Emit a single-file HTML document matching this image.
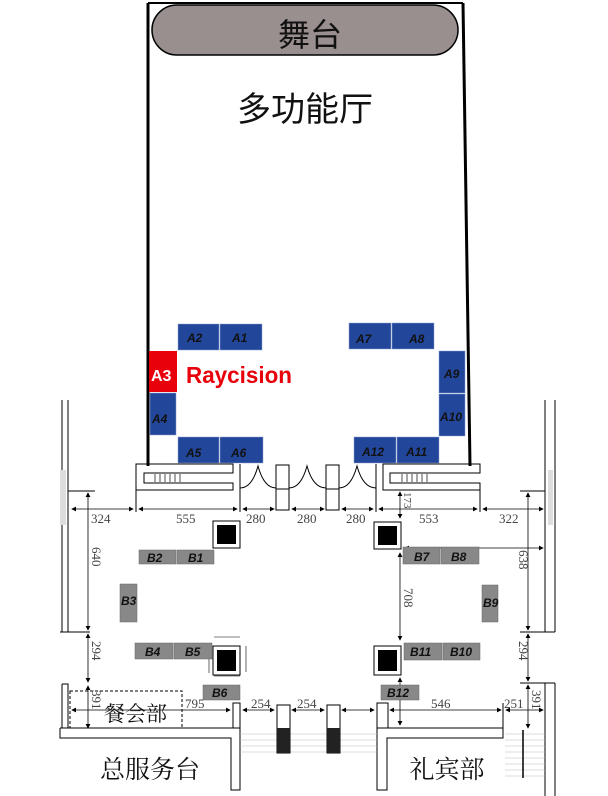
<!DOCTYPE html>
<html><head><meta charset="utf-8"><style>
html,body{margin:0;padding:0;background:#fff;}
svg{display:block;}
.cj{font-family:"Liberation Serif","Noto Serif CJK SC",serif;}
.bt{font-family:"Liberation Sans",sans-serif;font-weight:bold;font-style:italic;font-size:12px;}
.dm{font-family:"Liberation Serif",serif;font-size:13px;fill:#444;}
</style></head><body>
<svg width="608" height="796" viewBox="0 0 608 796" xmlns="http://www.w3.org/2000/svg">
<defs><marker id="ar" markerWidth="6" markerHeight="6" refX="5" refY="3" orient="auto-start-reverse"><path d="M0,0 L6,3 L0,6 Z" fill="#000"/></marker></defs>
<g stroke="#000" fill="none" stroke-width="1">
<line x1="148" y1="3" x2="463" y2="3" stroke-width="2"/>
<line x1="148" y1="3" x2="148" y2="466" stroke-width="3"/>
<line x1="463" y1="3" x2="470" y2="466" stroke-width="3"/>
<rect x="152" y="5" width="306" height="50" rx="25" fill="#9a8f8f" stroke-width="1.5"/>
<path d="M136,464 H233 V473 H144 V483 H233 V490 H136 Z"/>
<line x1="136" y1="490" x2="136" y2="512"/>
<line x1="240" y1="464" x2="240" y2="512"/>
<line x1="376" y1="464" x2="376" y2="512"/>
<path d="M383,464 H480 V473 H390 V483 H480 V490 H383 Z"/>
<line x1="480" y1="490" x2="480" y2="512"/>
<rect x="276" y="465" width="13" height="45"/><line x1="276" y1="489" x2="289" y2="489"/>
<rect x="326" y="465" width="13" height="45"/><line x1="326" y1="489" x2="339" y2="489"/>
<path d="M240,488 Q252,488 258,466 Q264,488 276,488"/>
<path d="M289,488 Q301,488 307,466 Q313,488 326,488"/>
<path d="M339,488 Q351,488 357,466 Q363,488 376,488"/>
<line x1="62" y1="400" x2="62" y2="632"/><line x1="68" y1="400" x2="68" y2="632"/>
<line x1="60" y1="632" x2="90" y2="632"/>
<line x1="68" y1="491" x2="95" y2="491"/>
<line x1="545" y1="400" x2="545" y2="632"/><line x1="555" y1="400" x2="555" y2="632"/>
<line x1="520" y1="632" x2="555" y2="632"/>
<line x1="520" y1="491" x2="545" y2="491"/>
<line x1="545" y1="683" x2="545" y2="796"/><line x1="555" y1="683" x2="555" y2="796"/>
<line x1="520" y1="683" x2="555" y2="683"/>
<path d="M62,684 V728 H60 M62,684 H68 V728"/>
<line x1="60" y1="728" x2="240" y2="728"/>
<path d="M60,728 V738 H231 V790 H240 V728"/>
<rect x="233" y="703" width="7" height="25"/>
<rect x="70" y="691" width="112" height="37" stroke-dasharray="3,2"/>
<path d="M377,703 V790 H387 V738 H503 V728 H377"/>
<rect x="377" y="703" width="11" height="25"/>
<line x1="503" y1="728" x2="503" y2="703"/>
<g stroke="#bbb" stroke-width="0.6">
<line x1="240" y1="734" x2="377" y2="734"/><line x1="240" y1="740" x2="377" y2="740"/><line x1="240" y1="746" x2="377" y2="746"/><line x1="240" y1="752" x2="377" y2="752"/>
<line x1="505" y1="734" x2="545" y2="734"/><line x1="505" y1="740" x2="545" y2="740"/><line x1="505" y1="746" x2="545" y2="746"/><line x1="505" y1="752" x2="545" y2="752"/><line x1="505" y1="758" x2="545" y2="758"/><line x1="505" y1="764" x2="545" y2="764"/><line x1="505" y1="770" x2="545" y2="770"/><line x1="505" y1="776" x2="545" y2="776"/>
</g>
<line x1="523" y1="730" x2="523" y2="778" stroke-width="1.5"/>
<rect x="277" y="705" width="13" height="48"/><rect x="327" y="705" width="13" height="48"/>
<g stroke-width="0.8" marker-start="url(#ar)" marker-end="url(#ar)">
<line x1="72" y1="509" x2="133" y2="509"/><line x1="139" y1="509" x2="237" y2="509"/>
<line x1="243" y1="509" x2="274" y2="509"/><line x1="292" y1="509" x2="324" y2="509"/><line x1="342" y1="509" x2="373" y2="509"/>
<line x1="379" y1="509" x2="477" y2="509"/><line x1="483" y1="509" x2="543" y2="509"/>
<line x1="88" y1="493" x2="88" y2="630"/><line x1="88" y1="634" x2="88" y2="682"/><line x1="88" y1="686" x2="88" y2="728"/>
<line x1="528" y1="493" x2="528" y2="630"/><line x1="528" y1="634" x2="528" y2="681"/><line x1="528" y1="685" x2="528" y2="728"/>
<line x1="72" y1="710" x2="230" y2="710"/><line x1="243" y1="710" x2="274" y2="710"/><line x1="292" y1="710" x2="324" y2="710"/><line x1="342" y1="710" x2="374" y2="710"/>
<line x1="390" y1="710" x2="501" y2="710"/><line x1="506" y1="710" x2="543" y2="710"/>
<line x1="400" y1="492" x2="400" y2="518"/><line x1="400" y1="553" x2="400" y2="640"/>
<line x1="405" y1="548" x2="543" y2="548"/><line x1="400" y1="678" x2="400" y2="725"/>
</g>
<line x1="214" y1="637" x2="240" y2="637" stroke-width="0.6"/>
<line x1="214" y1="676" x2="240" y2="676" stroke-width="0.6"/>
<line x1="246" y1="646" x2="246" y2="672" stroke-width="0.6"/>
<line x1="209" y1="657" x2="209" y2="673" stroke-width="0.6"/>
<rect x="213" y="521" width="27" height="27"/><rect x="374" y="522" width="27" height="27"/>
<rect x="213" y="646" width="27" height="29"/><rect x="374" y="646" width="27" height="29"/>
</g>
<g fill="#000">
<rect x="217" y="525" width="19" height="19"/><rect x="378" y="526" width="19" height="19"/>
<rect x="217" y="650" width="19" height="21"/><rect x="378" y="650" width="19" height="21"/>
<rect x="277" y="728" width="13" height="25" fill="#222"/><rect x="327" y="728" width="13" height="25" fill="#222"/>
</g>
<g stroke="#000" stroke-width="0.7">
<line x1="155" y1="474" x2="155" y2="482"/><line x1="160" y1="474" x2="160" y2="482"/><line x1="165" y1="474" x2="165" y2="482"/><line x1="170" y1="474" x2="170" y2="482"/><line x1="175" y1="474" x2="175" y2="482"/><line x1="180" y1="474" x2="180" y2="482"/>
<line x1="402" y1="474" x2="402" y2="482"/><line x1="407" y1="474" x2="407" y2="482"/><line x1="412" y1="474" x2="412" y2="482"/><line x1="417" y1="474" x2="417" y2="482"/><line x1="422" y1="474" x2="422" y2="482"/><line x1="427" y1="474" x2="427" y2="482"/>
</g>
<rect x="60" y="470" width="6" height="55" fill="#ddd"/>
<rect x="548" y="470" width="5" height="55" fill="#ddd"/>
<g class="dm">
<text x="91" y="523">324</text><text x="176" y="523">555</text><text x="246" y="523">280</text><text x="297" y="523">280</text><text x="346" y="523">280</text><text x="419" y="523">553</text><text x="499" y="523">322</text>
<text x="185" y="708">795</text><text x="251" y="708">254</text><text x="297" y="708">254</text><text x="431" y="708">546</text><text x="504" y="708">251</text>
<text transform="translate(92,547) rotate(90)">640</text>
<text transform="translate(92,641) rotate(90)">294</text>
<text transform="translate(92,690) rotate(90)">391</text>
<text transform="translate(519,550) rotate(90)">638</text>
<text transform="translate(519,641) rotate(90)">294</text>
<text transform="translate(532,690) rotate(90)">391</text>
<text transform="translate(404,588) rotate(90)">708</text>
<text transform="translate(404,492) rotate(90)" font-size="11">173</text>
</g>
<g fill="#22469a" stroke="#8aa0d0" stroke-width="0.5">
<rect x="178" y="324" width="41" height="26"/><rect x="220" y="324" width="42" height="26"/>
<rect x="349" y="323" width="42" height="26"/><rect x="392" y="323" width="42" height="26"/>
<rect x="150" y="393" width="26" height="42"/>
<rect x="439" y="351" width="26" height="42"/><rect x="439" y="394" width="26" height="42"/>
<rect x="178" y="437" width="41" height="26"/><rect x="220" y="437" width="43" height="26"/>
<rect x="354" y="437" width="42" height="26"/><rect x="397" y="437" width="42" height="26"/>
</g>
<rect x="149" y="351" width="28" height="41" fill="#e8000b"/>
<g class="bt" fill="#111">
<text x="187" y="342">A2</text><text x="232" y="342">A1</text>
<text x="356" y="343">A7</text><text x="409" y="343">A8</text>
<text x="152" y="423">A4</text>
<text x="444" y="378">A9</text><text x="440" y="421">A10</text>
<text x="186" y="457">A5</text><text x="231" y="457">A6</text>
<text x="362" y="456">A12</text><text x="406" y="456">A11</text>
</g>
<text x="151" y="381" font-family="Liberation Sans,sans-serif" font-weight="bold" font-size="16" fill="#fff">A3</text>
<text x="186" y="383" font-family="Liberation Sans,sans-serif" font-weight="bold" font-size="23" fill="#e8000b" textLength="106" lengthAdjust="spacingAndGlyphs">Raycision</text>
<g fill="#888" stroke="#666" stroke-width="0.5">
<rect x="139" y="550" width="37" height="14"/><rect x="177" y="550" width="37" height="14"/>
<rect x="120" y="584" width="17" height="38"/>
<rect x="135" y="643" width="38" height="16"/><rect x="174" y="643" width="38" height="16"/>
<rect x="203" y="685" width="37" height="15"/>
<rect x="403" y="547" width="37" height="17"/><rect x="441" y="547" width="38" height="17"/>
<rect x="482" y="585" width="16" height="37"/>
<rect x="404" y="643" width="38" height="17"/><rect x="443" y="643" width="37" height="17"/>
<rect x="381" y="685" width="38" height="15"/>
</g>
<g class="bt" fill="#111">
<text x="147" y="562">B2</text><text x="188" y="562">B1</text>
<text x="121" y="605">B3</text>
<text x="145" y="656">B4</text><text x="185" y="656">B5</text>
<text x="212" y="697">B6</text>
<text x="414" y="561">B7</text><text x="451" y="561">B8</text>
<text x="483" y="607">B9</text>
<text x="410" y="656">B11</text><text x="450" y="656">B10</text>
<text x="387" y="697">B12</text>
</g>
<g class="cj" fill="#111">
<text x="310" y="46" font-size="32" text-anchor="middle" font-family="Liberation Sans,'Noto Sans CJK SC',sans-serif">舞台</text>
<text x="305" y="121" font-size="34" text-anchor="middle" font-family="Liberation Sans,'Noto Sans CJK SC',sans-serif">多功能厅</text>
<text x="104" y="721" font-size="21">餐会部</text>
<text x="150" y="778" font-size="25" text-anchor="middle">总服务台</text>
<text x="447" y="778" font-size="25" text-anchor="middle">礼宾部</text>
</g>
</svg>
</body></html>
